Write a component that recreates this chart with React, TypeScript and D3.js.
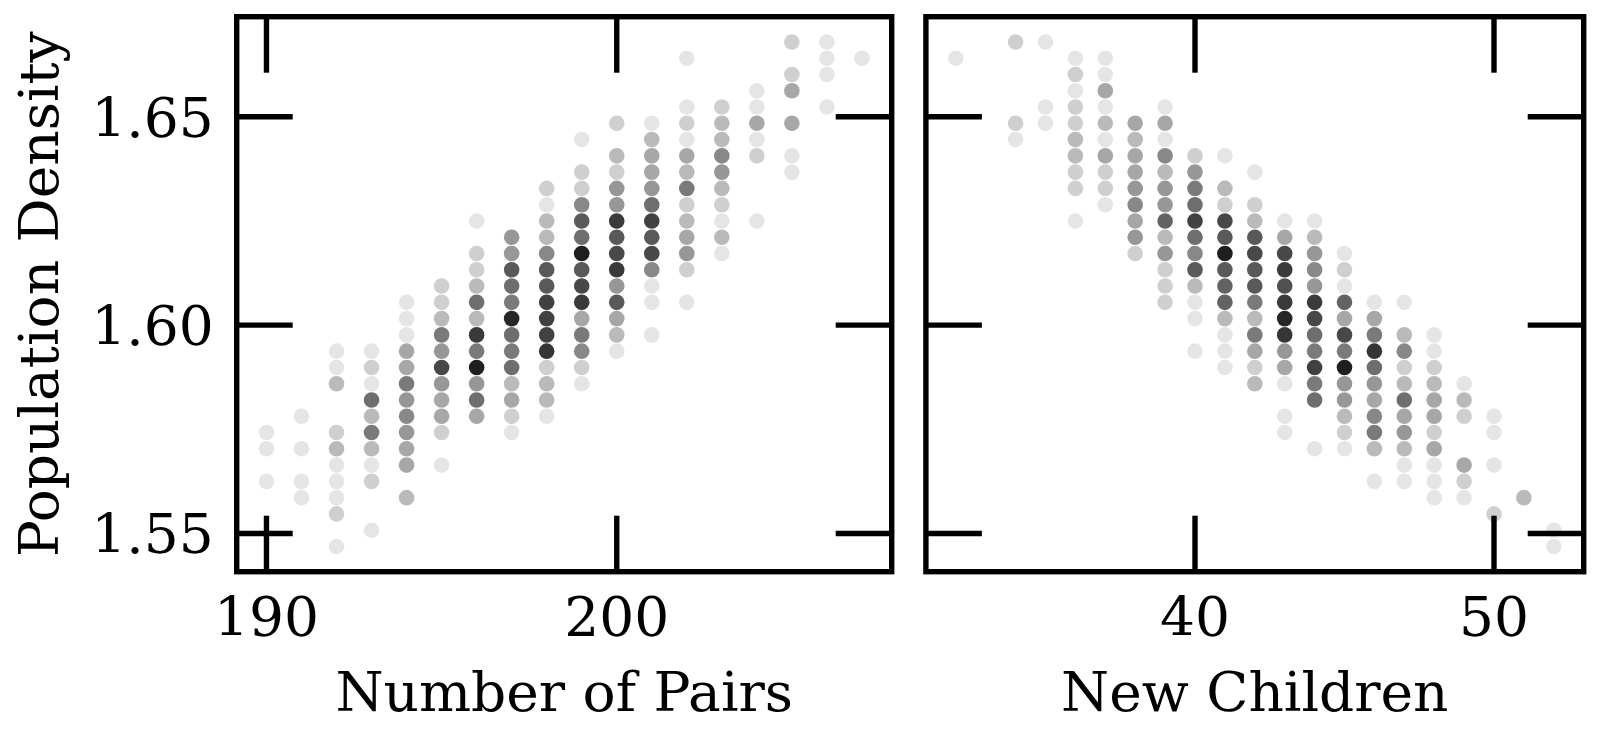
import React from 'react';
import * as d3 from 'd3';

const W = 1600;
const H = 740;
const FONT = '"DejaVu Serif", serif';
const FS = 55;

// density is recorded on a grid of 1/256 steps; rows below are grid indices
const ROW_STEP = 1 / 256;

// [number of pairs, [[density row, count], ...]]
const pairsGrid: [number, number[][]][] = [
  [190, [[400, 1], [402, 1], [403, 1]]],
  [191, [[399, 1], [400, 1], [402, 1], [404, 1]]],
  [192, [[396, 1], [398, 2], [399, 1], [400, 1], [401, 1], [402, 3], [403, 2], [406, 3], [407, 1], [408, 1]]],
  [193, [[397, 1], [400, 2], [401, 1], [402, 3], [403, 7], [404, 3], [405, 8], [406, 1], [407, 2], [408, 1]]],
  [194, [[399, 3], [401, 4], [402, 4], [403, 5], [404, 6], [405, 5], [406, 7], [407, 4], [408, 4], [409, 1], [410, 1], [411, 1]]],
  [195, [[401, 1], [403, 2], [404, 4], [405, 4], [406, 5], [407, 12], [408, 5], [409, 7], [410, 3], [411, 2], [412, 2]]],
  [196, [[404, 4], [405, 8], [406, 5], [407, 20], [408, 7], [409, 14], [410, 3], [411, 8], [412, 3], [413, 2], [414, 2], [416, 1]]],
  [197, [[403, 1], [404, 2], [405, 4], [406, 3], [407, 8], [408, 7], [409, 8], [410, 18], [411, 7], [412, 8], [413, 10], [414, 5], [415, 5]]],
  [198, [[404, 1], [405, 3], [406, 3], [407, 2], [408, 15], [409, 13], [410, 13], [411, 13], [412, 10], [413, 10], [414, 6], [415, 3], [416, 3], [417, 1], [418, 2]]],
  [199, [[406, 1], [407, 2], [408, 6], [409, 7], [410, 4], [411, 14], [412, 12], [413, 10], [414, 20], [415, 8], [416, 10], [417, 6], [418, 2], [419, 2], [421, 1]]],
  [200, [[408, 1], [409, 3], [410, 4], [411, 10], [412, 5], [413, 14], [414, 12], [415, 10], [416, 14], [417, 5], [418, 5], [419, 2], [420, 3], [422, 2]]],
  [201, [[409, 1], [411, 1], [412, 1], [413, 6], [414, 12], [415, 10], [416, 13], [417, 8], [418, 5], [419, 4], [420, 4], [421, 3], [422, 1]]],
  [202, [[411, 1], [413, 2], [414, 5], [415, 4], [416, 3], [417, 2], [418, 7], [419, 3], [420, 4], [421, 1], [422, 2], [423, 1], [426, 1]]],
  [203, [[414, 1], [415, 3], [416, 1], [417, 2], [418, 3], [419, 5], [420, 6], [421, 3], [422, 3], [423, 2]]],
  [204, [[416, 1], [420, 2], [421, 1], [422, 4], [423, 1], [424, 1]]],
  [205, [[419, 1], [420, 1], [422, 4], [424, 4], [425, 2], [427, 2]]],
  [206, [[423, 1], [425, 1], [426, 1], [427, 1]]],
  [207, [[426, 1]]],
];

// [new children, [[density row, count], ...]]
const childrenGrid: [number, number[][]][] = [
  [32, [[426, 1]]],
  [34, [[421, 1], [422, 2], [427, 2]]],
  [35, [[422, 1], [423, 1], [427, 1]]],
  [36, [[416, 1], [418, 2], [419, 2], [420, 3], [421, 3], [422, 2], [423, 2], [424, 1], [425, 2], [426, 1]]],
  [37, [[417, 1], [418, 2], [419, 2], [420, 4], [421, 1], [422, 3], [423, 1], [424, 4], [425, 1], [426, 1]]],
  [38, [[414, 2], [415, 5], [416, 4], [417, 6], [418, 5], [419, 4], [420, 4], [421, 3], [422, 4]]],
  [39, [[411, 2], [412, 2], [413, 2], [414, 5], [415, 3], [416, 9], [417, 5], [418, 5], [419, 3], [420, 6], [421, 1], [422, 4], [423, 1]]],
  [40, [[408, 1], [410, 1], [411, 1], [412, 3], [413, 10], [414, 6], [415, 8], [416, 13], [417, 8], [418, 7], [419, 5], [420, 2]]],
  [41, [[407, 1], [408, 1], [409, 1], [410, 3], [411, 9], [412, 9], [413, 10], [414, 20], [415, 10], [416, 12], [417, 2], [418, 3], [420, 1]]],
  [42, [[406, 3], [407, 2], [408, 4], [409, 7], [410, 3], [411, 7], [412, 10], [413, 10], [414, 12], [415, 10], [416, 3], [417, 2], [419, 1]]],
  [43, [[403, 1], [404, 1], [406, 1], [407, 4], [408, 5], [409, 15], [410, 18], [411, 14], [412, 11], [413, 14], [414, 12], [415, 4], [416, 1]]],
  [44, [[402, 1], [405, 8], [406, 7], [407, 13], [408, 7], [409, 8], [410, 12], [411, 14], [412, 5], [413, 6], [414, 5], [415, 3], [416, 1]]],
  [45, [[402, 1], [403, 2], [404, 3], [405, 5], [406, 5], [407, 20], [408, 7], [409, 12], [410, 4], [411, 9], [412, 1], [413, 2], [414, 1]]],
  [46, [[400, 1], [402, 3], [403, 7], [404, 6], [405, 4], [406, 5], [407, 8], [408, 15], [409, 7], [410, 4], [411, 1]]],
  [47, [[400, 1], [401, 1], [402, 3], [403, 5], [404, 4], [405, 8], [406, 3], [407, 2], [408, 6], [409, 3], [411, 1]]],
  [48, [[399, 1], [400, 1], [401, 1], [402, 4], [403, 2], [404, 4], [405, 4], [406, 3], [407, 2], [408, 1], [409, 1]]],
  [49, [[399, 1], [400, 2], [401, 4], [404, 2], [405, 3], [406, 1]]],
  [50, [[398, 2], [401, 1], [403, 1], [404, 1]]],
  [51, [[399, 3]]],
  [52, [[396, 1], [397, 1]]],
];

const yTicks = [1.55, 1.6, 1.65];
const pairsTicks = [190, 200];
const childrenTicks = [40, 50];

const TOP = 16.7;
const BOTTOM = 571.7;
const TICK = 56;
const LW = 5.4;

type Pt = { x: number; y: number; n: number };

const flatten = (grid: [number, number[][]][]): Pt[] =>
  grid.flatMap(([x, cells]) => cells.map(([row, n]) => ({ x, y: row * ROW_STEP, n })));

const pairsPts = flatten(pairsGrid);
const childrenPts = flatten(childrenGrid);

// matplotlib-like 5% margins
const padded = (vals: number[]): [number, number] => {
  const [lo, hi] = d3.extent(vals) as [number, number];
  const p = (hi - lo) * 0.05;
  return [lo - p, hi + p];
};

const y = d3
  .scaleLinear()
  .domain(padded([...pairsPts, ...childrenPts].map(d => d.y)))
  .range([BOTTOM, TOP]);

function Panel({ left, right, pts, xTicks, xLabel, yLabels }: {
  left: number; right: number; pts: Pt[]; xTicks: number[]; xLabel: string; yLabels: boolean;
}) {
  const x = d3.scaleLinear().domain(padded(pts.map(d => d.x))).range([left, right]);
  return (
    <g>
      {pts.map((d, i) => (
        <circle key={i} cx={x(d.x)} cy={y(d.y)} r={7.8} fill="#000" fillOpacity={1 - Math.pow(0.9, d.n)} />
      ))}
      {xTicks.map(t => (
        <g key={'x' + t}>
          <line x1={x(t)} x2={x(t)} y1={BOTTOM} y2={BOTTOM - TICK} stroke="#000" strokeWidth={LW} />
          <line x1={x(t)} x2={x(t)} y1={TOP} y2={TOP + TICK} stroke="#000" strokeWidth={LW} />
          <text x={x(t)} y={636} textAnchor="middle" fontFamily={FONT} fontSize={FS}>{t}</text>
        </g>
      ))}
      {yTicks.map(t => (
        <g key={'y' + t}>
          <line x1={left} x2={left + TICK} y1={y(t)} y2={y(t)} stroke="#000" strokeWidth={LW} />
          <line x1={right} x2={right - TICK} y1={y(t)} y2={y(t)} stroke="#000" strokeWidth={LW} />
          {yLabels && (
            <text x={left - 23} y={y(t) + 20} textAnchor="end" fontFamily={FONT} fontSize={FS}>
              {t.toFixed(2)}
            </text>
          )}
        </g>
      ))}
      <rect x={left} y={TOP} width={right - left} height={BOTTOM - TOP} fill="none" stroke="#000" strokeWidth={LW} />
      <text x={(left + right) / 2} y={711} textAnchor="middle" fontFamily={FONT} fontSize={FS}>{xLabel}</text>
    </g>
  );
}

export default function App() {
  return (
    <svg width={W} height={H} style={{ position: 'absolute', left: 0, top: 0, background: '#fff' }}>
      <rect width={W} height={H} fill="#fff" />
      <Panel left={236.7} right={891.7} pts={pairsPts} xTicks={pairsTicks} xLabel="Number of Pairs" yLabels />
      <Panel left={925.9} right={1583.7} pts={childrenPts} xTicks={childrenTicks} xLabel="New Children" yLabels={false} />
      <text
        transform={`translate(58, ${(TOP + BOTTOM) / 2}) rotate(-90)`}
        textAnchor="middle"
        fontFamily={FONT}
        fontSize={FS}
      >
        Population Density
      </text>
    </svg>
  );
}
